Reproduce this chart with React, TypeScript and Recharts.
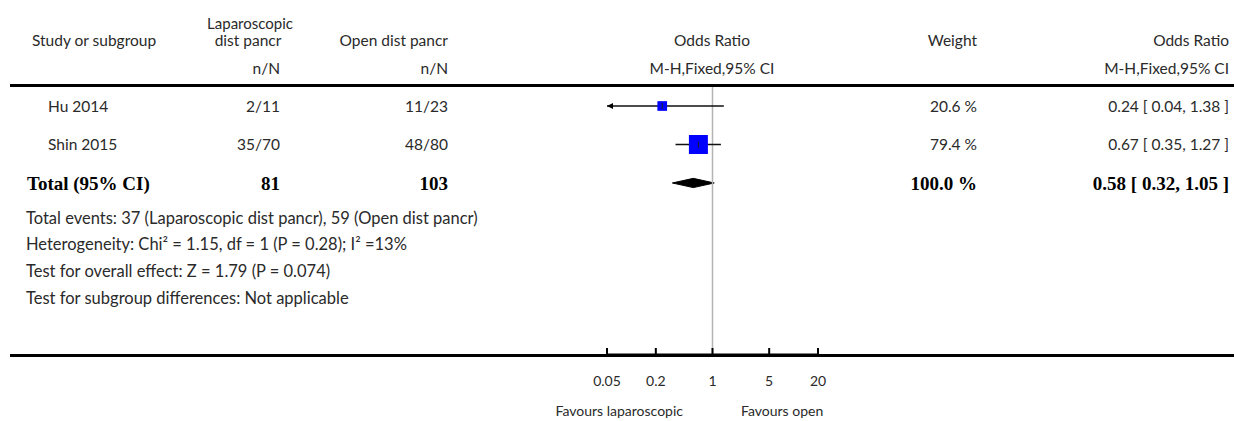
import React from 'react';
import {
  ComposedChart,
  Area,
  Scatter,
  ErrorBar,
  XAxis,
  YAxis,
  ReferenceLine,
} from 'recharts';

// study rows
const studies = ['Hu 2014', 'Shin 2015'];
const lapEvents = ['2/11', '35/70'];
const openEvents = ['11/23', '48/80'];
const weights = [20.6, 79.4];
const oddsRatios = [0.24, 0.67];
const ciLow = [0.04, 0.35];
const ciHigh = [1.38, 1.27];

// pooled row
const totalLap = 81;
const totalOpen = 103;
const totalWeight = 100.0;
const pooledOR = 0.58;
const pooledLow = 0.32;
const pooledHigh = 1.05;

const xTicks = [0.05, 0.2, 1, 5, 20];
const footnotes = [
  'Total events: 37 (Laparoscopic dist pancr), 59 (Open dist pancr)',
  'Heterogeneity: Chi² = 1.15, df = 1 (P = 0.28); I² =13%',
  'Test for overall effect: Z = 1.79 (P = 0.074)',
  'Test for subgroup differences: Not applicable',
];

const W = 1234;
const H = 421;
const X_MIN = xTicks[0];
const X_MAX = xTicks[xTicks.length - 1];
const DIAMOND_HALF = 0.12; // in row units
const SANS = "Lato, 'Noto Sans', sans-serif";
const SERIF = "'Liberation Serif', 'DejaVu Serif', serif";
const TXT = '#2a2a2a';

const fmt2 = (v: number) => v.toFixed(2);
const ciText = (or: number, lo: number, hi: number) =>
  `${fmt2(or)} [ ${fmt2(lo)}, ${fmt2(hi)} ]`;

const studyPoints = studies.map((name, i) => ({
  name,
  x: oddsRatios[i],
  y: i,
  w: weights[i],
  err: [
    oddsRatios[i] - Math.max(ciLow[i], X_MIN),
    Math.min(ciHigh[i], X_MAX) - oddsRatios[i],
  ],
}));

// left arrows where the CI runs past the axis
const arrowPoints = studyPoints
  .filter((p, i) => ciLow[i] < X_MIN)
  .map((p) => ({ x: X_MIN, y: p.y }));

const totalRow = studies.length;
const diamond = [
  { x: pooledLow, band: [totalRow, totalRow] },
  { x: pooledOR, band: [totalRow - DIAMOND_HALF, totalRow + DIAMOND_HALF] },
  { x: pooledHigh, band: [totalRow, totalRow] },
];

const WeightBox = (props: any) => {
  const { cx, cy, payload } = props;
  const s = 2.13 * Math.sqrt(payload.w);
  return <rect x={cx - s / 2} y={cy - s / 2} width={s} height={s} fill="#0000ff" />;
};

const CenterMark = (props: any) => {
  const { cx, cy } = props;
  return <line x1={cx} x2={cx} y1={cy - 3} y2={cy + 3} stroke="#222" strokeWidth={1} />;
};

const LeftArrow = (props: any) => {
  const { cx, cy } = props;
  return (
    <polygon
      points={`${cx},${cy} ${cx + 6},${cy - 3} ${cx + 6},${cy + 3}`}
      fill="#000"
    />
  );
};

const AxisTick = (props: any) => {
  const { x, y, payload } = props;
  return (
    <g>
      <line x1={x} x2={x} y1={y - 7} y2={y} stroke="#000" strokeWidth={2} />
      <text
        x={x}
        y={y + 31}
        textAnchor="middle"
        fontSize={14}
        fontFamily={SANS}
        fill={TXT}
      >
        {String(payload.value)}
      </text>
    </g>
  );
};

export default function App() {
  const rowBase = [112, 150];
  return (
    <div style={{ position: 'absolute', left: 0, top: 0, width: W, height: H, background: '#fff' }}>
      <div style={{ position: 'absolute', left: 0, top: 0 }}>
        <ComposedChart
          width={W}
          height={H}
          data={diamond}
          margin={{ top: 86, right: 416, bottom: 36, left: 607 }}
        >
          <XAxis
            dataKey="x"
            type="number"
            scale="log"
            domain={[X_MIN, X_MAX]}
            ticks={xTicks}
            allowDataOverflow
            height={30}
            axisLine={{ stroke: '#000', strokeWidth: 3 }}
            tickLine={false}
            tickSize={0}
            tickMargin={0}
            tick={<AxisTick />}
          />
          <YAxis
            dataKey="y"
            type="number"
            domain={[-0.52, 6.47]}
            reversed
            allowDataOverflow
            hide
            width={0}
          />
          <ReferenceLine x={1} stroke="#b4b4b4" strokeWidth={1.5} />
          <Area
            type="linear"
            dataKey="band"
            stroke="#000"
            strokeWidth={1}
            fill="#000"
            fillOpacity={1}
            dot={false}
            activeDot={false}
            isAnimationActive={false}
          />
          <Scatter data={studyPoints} shape={<WeightBox />} isAnimationActive={false} />
          <Scatter data={studyPoints} shape={<CenterMark />} isAnimationActive={false}>
            <ErrorBar dataKey="err" direction="x" width={0} stroke="#111" strokeWidth={1.5} />
          </Scatter>
          <Scatter data={arrowPoints} shape={<LeftArrow />} isAnimationActive={false} />
        </ComposedChart>
      </div>
      <svg
        width={W}
        height={H}
        style={{ position: 'absolute', left: 0, top: 0, pointerEvents: 'none' }}
      >
        <g fontFamily={SANS} fontSize={15.5} fill={TXT}>
          <text x={32} y={45.5}>Study or subgroup</text>
          <text x={250} y={28.5} fontSize={15} textAnchor="middle">Laparoscopic</text>
          <text x={248} y={45.5} textAnchor="middle">dist pancr</text>
          <text x={448} y={45.5} textAnchor="end">Open dist pancr</text>
          <text x={712} y={45.5} textAnchor="middle">Odds Ratio</text>
          <text x={977} y={45.5} textAnchor="end">Weight</text>
          <text x={1229} y={45.5} textAnchor="end">Odds Ratio</text>

          <text x={280} y={73.5} textAnchor="end">n/N</text>
          <text x={448} y={73.5} textAnchor="end">n/N</text>
          <text x={712} y={73.5} textAnchor="middle">M-H,Fixed,95% CI</text>
          <text x={1229} y={73.5} textAnchor="end">M-H,Fixed,95% CI</text>

          {studies.map((s, i) => (
            <g key={s}>
              <text x={48} y={rowBase[i]}>{s}</text>
              <text x={280} y={rowBase[i]} textAnchor="end">{lapEvents[i]}</text>
              <text x={448} y={rowBase[i]} textAnchor="end">{openEvents[i]}</text>
              <text x={977} y={rowBase[i]} textAnchor="end">{weights[i].toFixed(1)} %</text>
              <text x={1229} y={rowBase[i]} textAnchor="end">
                {ciText(oddsRatios[i], ciLow[i], ciHigh[i])}
              </text>
            </g>
          ))}

          {footnotes.map((f, i) => (
            <text key={f} x={26} y={223.5 + i * 26.8} fontSize={16.5}>{f}</text>
          ))}

          <text x={683} y={416} fontSize={14} textAnchor="end">Favours laparoscopic</text>
          <text x={741} y={416} fontSize={14}>Favours open</text>
        </g>
        <g fontFamily={SERIF} fontSize={19} fontWeight="bold" fill="#000">
          <text x={27} y={189.5}>Total (95% CI)</text>
          <text x={280} y={189.5} textAnchor="end">{totalLap}</text>
          <text x={448} y={189.5} textAnchor="end">{totalOpen}</text>
          <text x={977} y={189.5} textAnchor="end">{totalWeight.toFixed(1)} %</text>
          <text x={1229} y={189.5} textAnchor="end">
            {ciText(pooledOR, pooledLow, pooledHigh)}
          </text>
        </g>
        <line x1={10} x2={W} y1={85.5} y2={85.5} stroke="#000" strokeWidth={3} />
        <line x1={10} x2={W} y1={355.5} y2={355.5} stroke="#000" strokeWidth={3} />
      </svg>
    </div>
  );
}
